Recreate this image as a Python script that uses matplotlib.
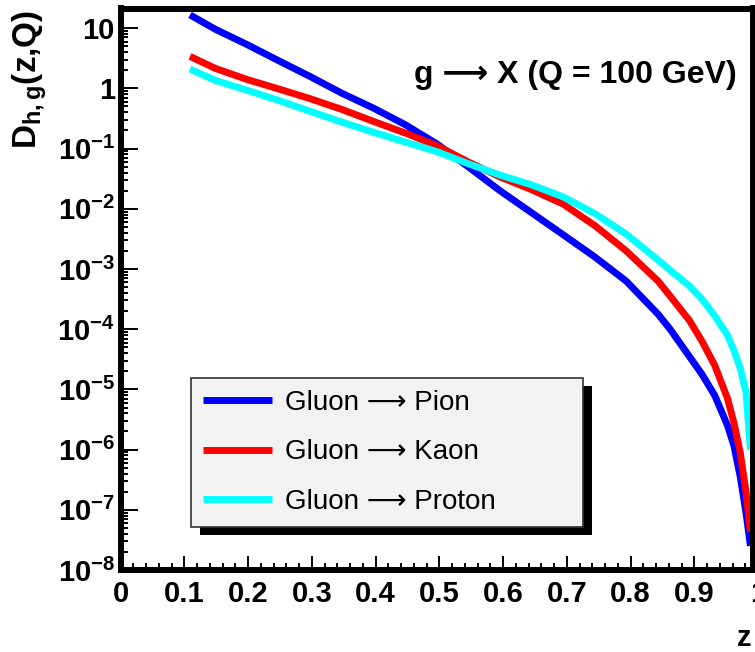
import matplotlib
matplotlib.use('Agg')
import matplotlib.pyplot as plt
from matplotlib.patches import Rectangle
from matplotlib.transforms import IdentityTransform
from matplotlib.ticker import MultipleLocator, LogLocator, NullFormatter, FixedLocator, FixedFormatter
import numpy as np

plt.rcParams['font.family'] = ['Liberation Sans', 'DejaVu Sans']
plt.rcParams['mathtext.fontset'] = 'dejavusans'
plt.rcParams['mathtext.default'] = 'regular'

# momentum fraction z and gluon fragmentation functions D(z, Q=100 GeV)
z = [0.109, 0.149, 0.198, 0.248, 0.297, 0.347, 0.397, 0.446, 0.496, 0.545,
     0.595, 0.644, 0.694, 0.744, 0.793, 0.843, 0.862, 0.892, 0.912, 0.932,
     0.952, 0.962, 0.972, 0.981, 0.988]

pion = [16.6, 9.55, 5.37, 2.88, 1.58, 0.832, 0.468, 0.251, 0.120, 0.0501,
        0.0200, 8.71e-3, 3.72e-3, 1.58e-3, 6.31e-4, 1.78e-4, 1.00e-4, 3.55e-5, 1.78e-5, 7.94e-6,
        2.51e-6, 1.17e-6, 3.55e-7, 8.91e-8, 2.51e-8]

kaon = [3.39, 2.14, 1.41, 0.977, 0.676, 0.447, 0.282, 0.182, 0.112, 0.0603,
        0.0339, 0.0209, 0.0120, 5.25e-3, 2.00e-3, 6.31e-4, 3.55e-4, 1.41e-4, 6.31e-5, 2.51e-5,
        7.08e-6, 2.82e-6, 8.91e-7, 2.00e-7, 4.27e-8]

proton = [2.09, 1.35, 0.933, 0.631, 0.417, 0.275, 0.186, 0.129, 0.0891, 0.0562,
          0.0363, 0.0251, 0.0158, 8.32e-3, 3.80e-3, 1.41e-3, 9.55e-4, 5.25e-4, 3.16e-4, 1.66e-4,
          7.94e-5, 4.47e-5, 2.24e-5, 8.91e-6, 1.00e-6]

series = [pion, kaon, proton]
names = ['Gluon \u27f6 Pion', 'Gluon \u27f6 Kaon', 'Gluon \u27f6 Proton']
colors = ['#0000ff', '#ff0000', '#00ffff']

xticks = [0, 0.1, 0.2, 0.3, 0.4, 0.5, 0.6, 0.7, 0.8, 0.9]
xtick_labels = ['0', '0.1', '0.2', '0.3', '0.4', '0.5', '0.6', '0.7', '0.8', '0.9']
ydecades = [-8, -7, -6, -5, -4, -3, -2, -1, 0, 1]
ytick_labels = ['10$^{%d}$' % d for d in ydecades[:-2]] + ['1', '10']

W, H = 755, 652
fig = plt.figure(figsize=(W / 100, H / 100), dpi=100)
ax = fig.add_axes([120.5 / W, 1 - 570 / H, (753 - 120.5) / W, (570 - 8.5) / H])

for d, name, c in zip(series, names, colors):
    ax.plot(z, d, color=c, lw=5, solid_capstyle='butt', label=name)

ax.set_yscale('log')
ax.set_xlim(0, 0.992)
ax.set_ylim(1e-8, 21.2)

ax.xaxis.set_major_locator(FixedLocator(xticks))
ax.xaxis.set_major_formatter(FixedFormatter(xtick_labels))
ax.xaxis.set_minor_locator(MultipleLocator(0.02))
ax.yaxis.set_major_locator(FixedLocator([10.0 ** d for d in ydecades]))
ax.yaxis.set_major_formatter(FixedFormatter(ytick_labels))
ax.yaxis.set_minor_locator(LogLocator(base=10, subs=np.arange(2, 10), numticks=30))
ax.yaxis.set_minor_formatter(NullFormatter())

ax.tick_params(which='both', direction='in', top=False, right=False, width=1.4)
ax.tick_params(axis='x', which='major', length=10, pad=7)
ax.tick_params(axis='y', which='major', length=12, pad=4)
ax.tick_params(which='minor', length=5)
for lab in ax.get_xticklabels() + ax.get_yticklabels():
    lab.set_fontsize(21)
    lab.set_fontweight('bold')

# last x label sits right on the frame edge
ax.annotate('1', xy=(1.0, 0), xycoords=('data', 'axes fraction'), xytext=(0, -7),
            textcoords='offset points', ha='center', va='top', fontsize=21,
            fontweight='bold', annotation_clip=False)

for s in ax.spines.values():
    s.set_linewidth(4.3)

leg = ax.legend(loc='upper left', bbox_to_anchor=(191, H - 378 - 148, 392, 148),
                bbox_transform=IdentityTransform(), mode='expand', borderaxespad=0,
                fontsize=20, handlelength=2.5, handletextpad=0.45, labelspacing=0.85,
                borderpad=0.42, fancybox=False, framealpha=1)
leg.get_frame().set_facecolor('#f2f2f2')
leg.get_frame().set_edgecolor('#333333')
leg.get_frame().set_linewidth(1.2)
for h in leg.get_lines():
    h.set_linewidth(5)

fig.canvas.draw()
bb = leg.get_frame().get_window_extent()
ax.add_patch(Rectangle((bb.x0 + 9, bb.y0 - 8), bb.width, bb.height,
                       transform=IdentityTransform(), facecolor='black',
                       edgecolor='none', zorder=4.9))

fig.text(737 / W, 1 - 83 / H, 'g \u27f6 X (Q = 100 GeV)', ha='right',
         va='baseline', fontsize=23, fontweight='bold')
fig.text(29.5 / W, 1 - 10 / H, 'D$_{h,g}$(z,Q)', rotation=90, ha='center',
         va='top', fontsize=24, fontweight='bold')
fig.text(744 / W, 1 - 638 / H, 'z', ha='center', va='center', fontsize=21,
         fontweight='bold')

fig.savefig('out.png', dpi=100)
